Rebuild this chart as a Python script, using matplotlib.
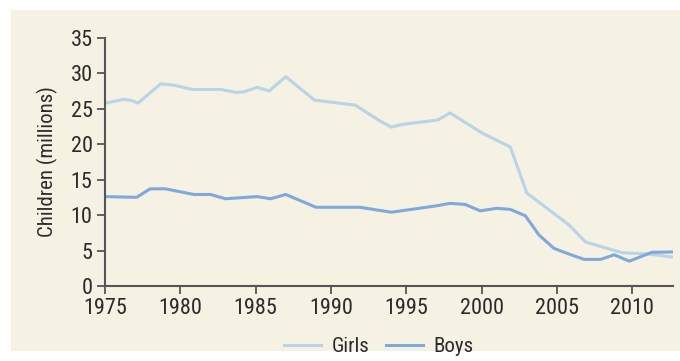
import matplotlib.pyplot as plt
from matplotlib.patches import Rectangle
from matplotlib import font_manager

# children counts in millions, read per year
girls_years = [1975.0, 1976.2, 1976.7, 1977.2, 1978.7, 1979.6, 1980.8, 1982.7,
               1983.7, 1984.2, 1985.1, 1985.9, 1987.0, 1988.9, 1991.6, 1993.3,
               1994.0, 1994.8, 1997.1, 1997.9, 2000.0, 2001.9, 2003.0, 2005.8,
               2006.9, 2009.3, 2011.1, 2012.6]
girls = [25.75, 26.3, 26.2, 25.8, 28.5, 28.3, 27.7, 27.7,
         27.3, 27.35, 28.0, 27.5, 29.5, 26.2, 25.5, 23.2,
         22.4, 22.8, 23.4, 24.4, 21.6, 19.6, 13.1, 8.6,
         6.2, 4.7, 4.5, 4.1]

boys_years = [1975.0, 1977.1, 1978.0, 1979.0, 1980.9, 1982.0, 1983.0, 1985.1,
              1986.0, 1987.0, 1989.0, 1991.9, 1994.0, 1997.0, 1997.9, 1998.9,
              1999.9, 2001.0, 2001.9, 2002.9, 2003.8, 2004.8, 2005.8, 2006.8,
              2007.9, 2008.8, 2009.8, 2011.3, 2012.8]
boys = [12.6, 12.5, 13.7, 13.7, 12.9, 12.9, 12.3, 12.6,
        12.3, 12.9, 11.1, 11.1, 10.4, 11.3, 11.65, 11.5,
        10.6, 10.95, 10.8, 9.9, 7.2, 5.3, 4.5, 3.75,
        3.75, 4.4, 3.5, 4.75, 4.8]

x_ticks = [1975, 1980, 1985, 1990, 1995, 2000, 2005, 2010]
y_ticks = [0, 5, 10, 15, 20, 25, 30, 35]

bg = '#f5f1e3'
girls_col = '#b8d4e6'
boys_col = '#7ea9da'
axis_col = '#555555'
text_col = '#2b2b2b'

# narrow face if one is installed
names = {f.name for f in font_manager.fontManager.ttflist}
narrow = [n for n in ['Liberation Sans Narrow', 'Roboto Condensed',
                      'Open Sans Condensed'] if n in names]
plt.rcParams['font.family'] = narrow + ['DejaVu Sans']
plt.rcParams['font.stretch'] = 'condensed'

fig = plt.figure(figsize=(6.8, 3.61), dpi=100)
fig.patches.append(Rectangle((11 / 680, 10 / 361), 669 / 680, 341 / 361,
                             transform=fig.transFigure, facecolor=bg,
                             edgecolor='none', zorder=-10))

ax = fig.add_axes([105 / 680, 1 - 286 / 361, 568 / 680, (286 - 37.7) / 361])
ax.set_facecolor(bg)

ax.plot(girls_years, girls, color=girls_col, lw=2.2, label='Girls',
        solid_joinstyle='round')
ax.plot(boys_years, boys, color=boys_col, lw=2.2, label='Boys',
        solid_joinstyle='round')

ax.set_xlim(1975, 2012.7)
ax.set_ylim(0, 35)
ax.set_xticks(x_ticks)
ax.set_yticks(y_ticks)

for s in ['top', 'right']:
    ax.spines[s].set_visible(False)
for s in ['left', 'bottom']:
    ax.spines[s].set_color(axis_col)
    ax.spines[s].set_linewidth(1.5)

ax.tick_params(axis='both', colors=axis_col, width=1.3, length=6,
               labelsize=16, labelcolor=text_col)
ax.tick_params(axis='y', pad=3)
ax.tick_params(axis='x', pad=3)

ax.set_ylabel('Children (millions)', fontsize=15, color=text_col, labelpad=9)

ax.legend(loc='upper center', bbox_to_anchor=(0.482, -0.13), ncol=2,
          frameon=False, fontsize=15, handlelength=1.8, handletextpad=0.5,
          columnspacing=0.8, labelcolor=text_col)

fig.savefig('out.png', dpi=100, facecolor='white')
